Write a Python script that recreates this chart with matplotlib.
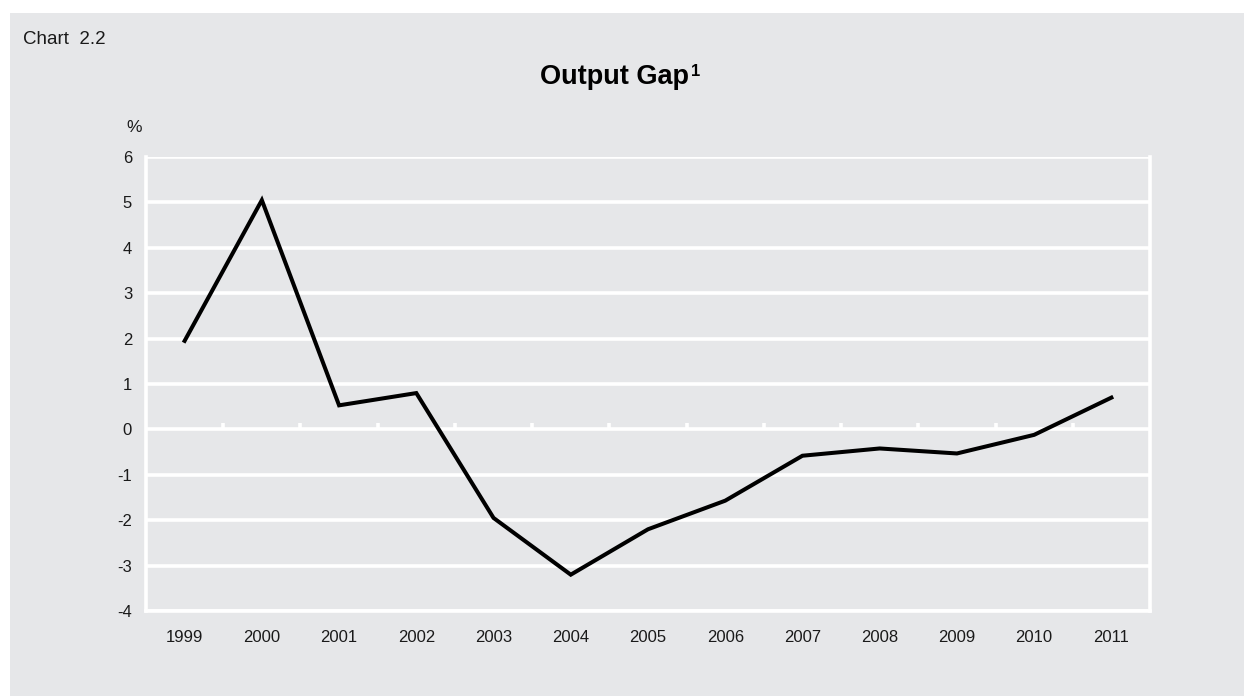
import matplotlib
matplotlib.use("Agg")
import matplotlib.pyplot as plt
from matplotlib.patches import Rectangle

# ── Data ──────────────────────────────────────────
years = ["1999", "2000", "2001", "2002", "2003", "2004", "2005",
         "2006", "2007", "2008", "2009", "2010", "2011"]
output_gap = [1.95, 5.05, 0.53, 0.80, -1.95, -3.20, -2.20,
              -1.57, -0.58, -0.42, -0.53, -0.12, 0.70]
y_ticks = [-4, -3, -2, -1, 0, 1, 2, 3, 4, 5, 6]

BG = "#e6e7e9"
TXT = "#1a1a1a"
plt.rcParams["font.family"] = ["Liberation Sans", "DejaVu Sans"]

fig = plt.figure(figsize=(12.44, 6.96), dpi=100)
fig.patch.set_facecolor("white")
fig.patches.append(Rectangle((10 / 1244, 0), 1 - 10 / 1244, 683 / 696,
                             transform=fig.transFigure, facecolor=BG,
                             edgecolor="none", zorder=-10))

ax = fig.add_axes([146 / 1244, 1 - 611 / 696, (1150 - 146) / 1244, (611 - 157) / 696])
ax.set_facecolor(BG)
x = list(range(len(years)))

# ── Grid & dividers ───────────────────────────────
for v in y_ticks:
    ax.axhline(v, color="white", lw=2.6, zorder=1)

for b in [i + 0.5 for i in range(len(years) - 1)]:
    ax.plot([b, b], [0, 0.14], color="white", lw=2.6, zorder=1,
            solid_capstyle="butt")

# ── Series ────────────────────────────────────────
ax.plot(x, output_gap, color="black", lw=2.9, zorder=3,
        solid_joinstyle="miter")

ax.set_xlim(-0.5, len(years) - 0.5)
ax.set_ylim(-4, 6)
ax.set_yticks(y_ticks)
ax.set_yticklabels([str(v) for v in y_ticks])
ax.set_xticks(x)
ax.set_xticklabels(years)
ax.tick_params(length=0, labelsize=12, colors=TXT)
ax.tick_params(axis="x", pad=14)
ax.tick_params(axis="y", pad=10)

for side in ["left", "right", "bottom"]:
    ax.spines[side].set_color("white")
    ax.spines[side].set_linewidth(2.6)
ax.spines["top"].set_visible(False)

# ── Labels ────────────────────────────────────────
fig.text(23 / 1244, 1 - 40 / 696, "Chart  2.2", fontsize=13.5,
         color=TXT, va="center", ha="left")
title = fig.text(615 / 1244, 1 - 77 / 696, "Output Gap", fontsize=19.5,
                 fontweight="bold", va="center", ha="center")
ax.annotate("1", xy=(1, 1), xycoords=title, xytext=(1, 0),
            textcoords="offset points", fontsize=12, fontweight="bold",
            ha="left", va="top")
fig.text(134 / 1244, 1 - 127 / 696, "%", fontsize=12.5, color=TXT,
         va="center", ha="center")

fig.savefig("out.png", dpi=100, facecolor=fig.get_facecolor())
